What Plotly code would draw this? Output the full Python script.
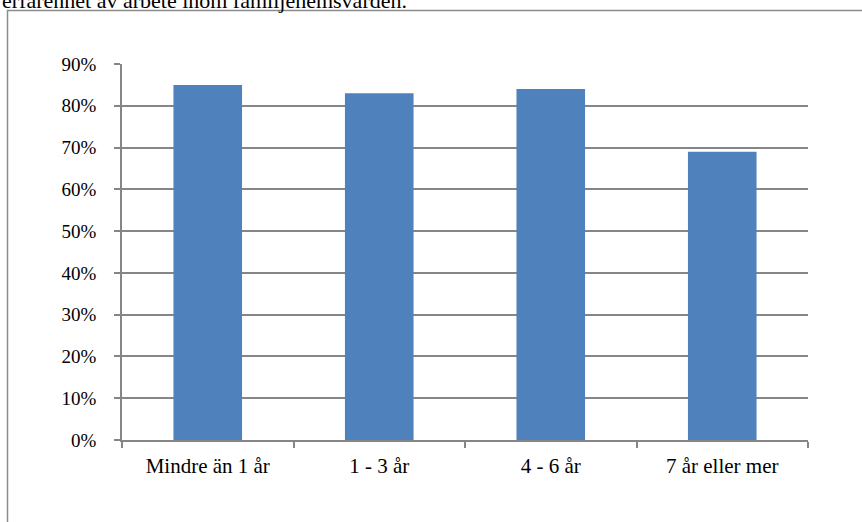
import plotly.graph_objects as go

categories = ["Mindre än 1 år", "1 - 3 år", "4 - 6 år", "7 år eller mer"]
values = [0.85, 0.83, 0.84, 0.69]
title_text = "erfarenhet av arbete inom familjehemsvården."

W, H = 862, 522
L, R, T, B = 122, 54, 64, 82
pw, ph = W - L - R, H - T - B

def px(x):
    return (x - L) / pw

def py(y):
    return 1 - (y - T) / ph

fam = "Liberation Serif, Times New Roman, serif"
yfont = dict(family=fam, size=19, color="#000000")
xfont = dict(family=fam, size=21, color="#000000")
gray = "#868686"

fig = go.Figure(go.Bar(x=categories, y=values, marker=dict(color="#4F81BD", line=dict(width=0))))

fig.update_layout(
    width=W, height=H,
    margin=dict(l=L, r=R, t=T, b=B, pad=0),
    paper_bgcolor="white", plot_bgcolor="white",
    bargap=0.6,
    showlegend=False,
    font=yfont,
    xaxis=dict(
        showline=True, linecolor=gray, linewidth=1.5,
        ticks="outside", tickson="boundaries", ticklen=6, tickcolor=gray, tickwidth=1.5,
        showgrid=False, tickfont=xfont, ticklabelstandoff=6,
    ),
    yaxis=dict(
        range=[0, 0.9], dtick=0.1, tick0=0, tickformat=".0%",
        showline=True, linecolor=gray, linewidth=1.5,
        ticks="outside", ticklen=6, tickcolor=gray, tickwidth=1.5,
        showgrid=True, gridcolor=gray, gridwidth=1.5,
        zeroline=False, tickfont=yfont, ticklabelstandoff=14,
    ),
    shapes=[
        dict(type="rect", xref="paper", yref="paper",
             x0=px(7.5), x1=px(900), y0=py(600), y1=py(10.5),
             line=dict(color="#8c8c8c", width=1.5), fillcolor="rgba(0,0,0,0)", layer="below"),
    ],
    annotations=[
        dict(text=title_text, xref="paper", yref="paper", x=px(0), y=py(1),
             xanchor="left", yanchor="middle", showarrow=False,
             font=dict(family=fam, size=22, color="#000000")),
    ],
)

fig.write_html(
    "out.html",
    config={"displayModeBar": False},
    post_script="document.body.style.margin='0';document.body.style.overflow='hidden';",
)
